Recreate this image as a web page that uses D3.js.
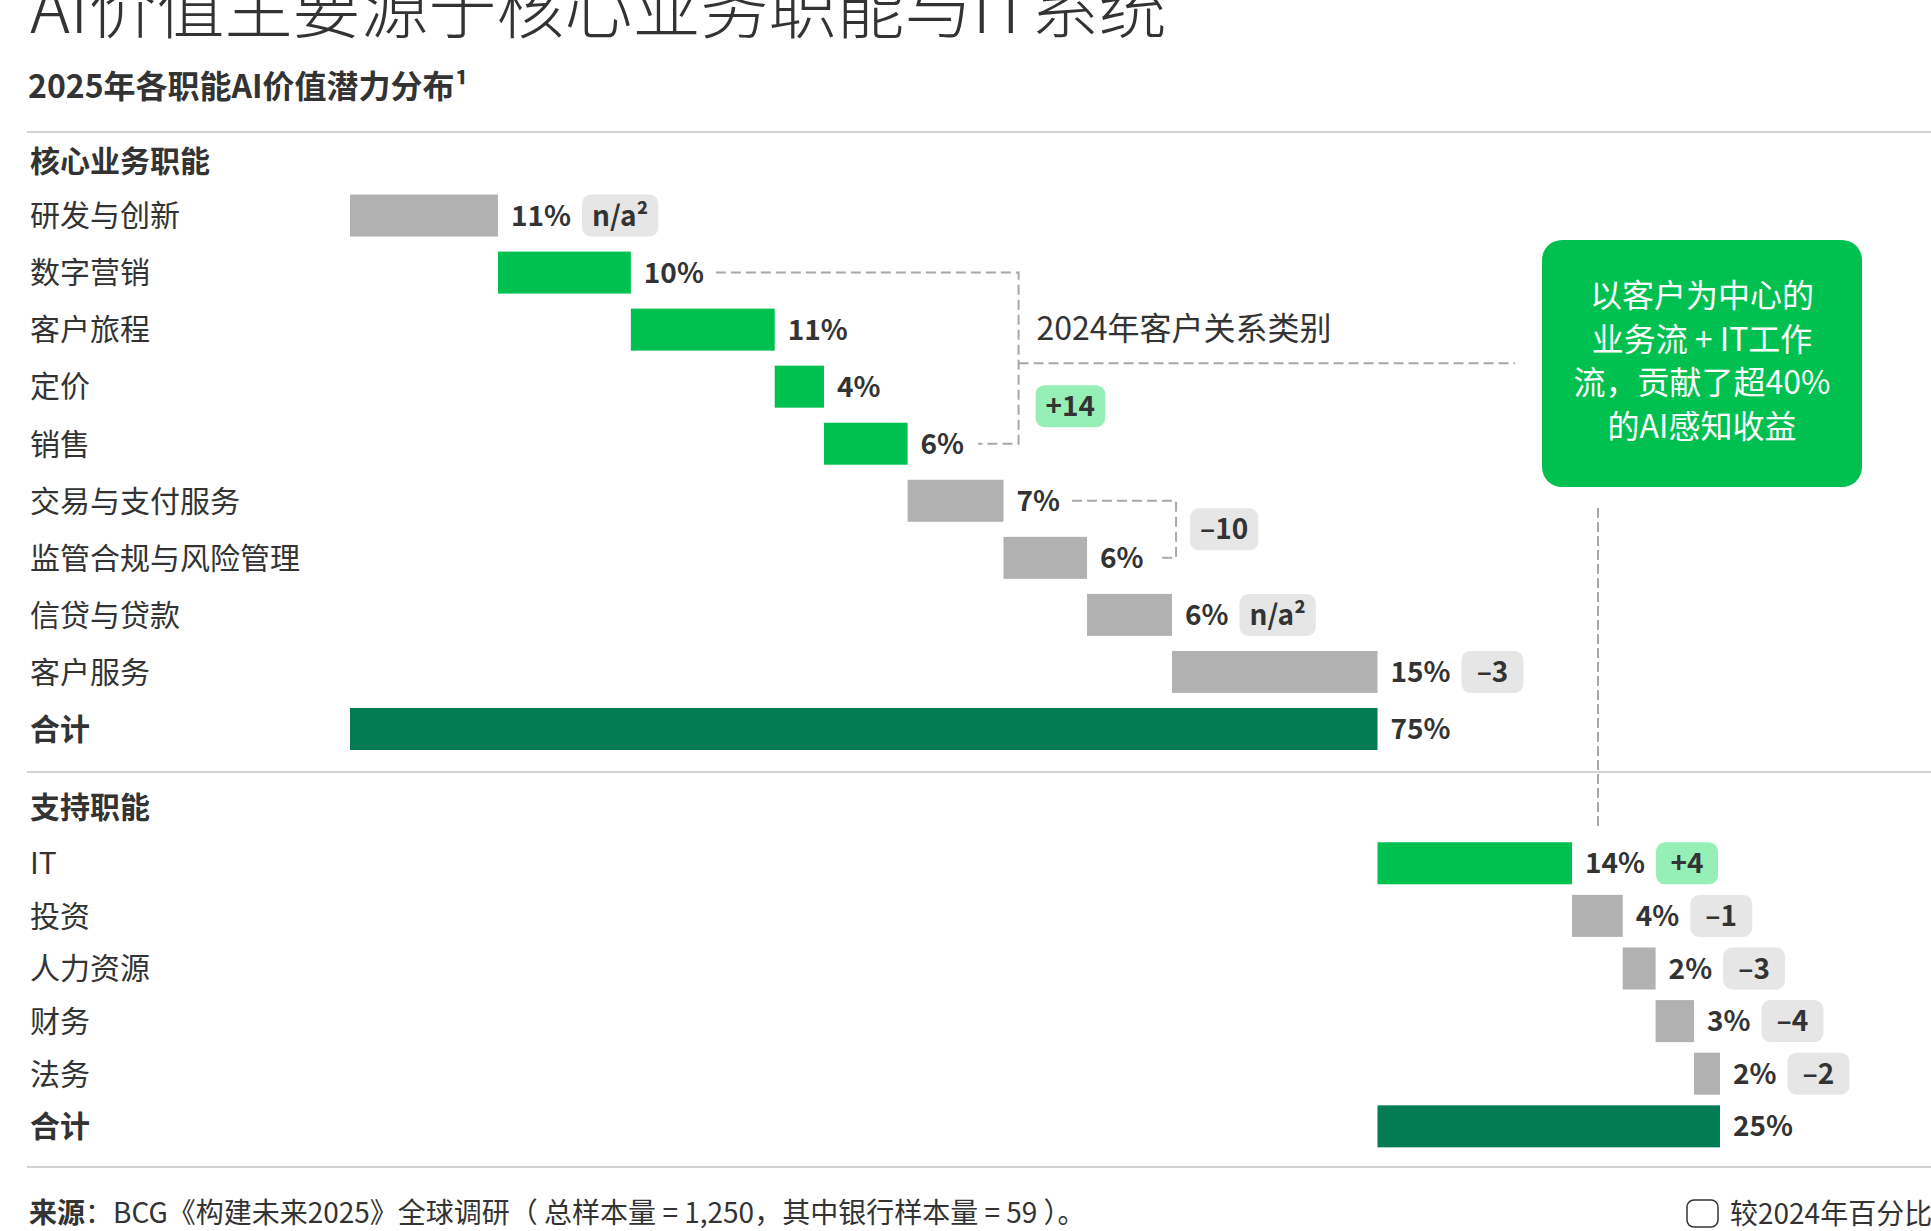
<!DOCTYPE html>
<html>
<head>
<meta charset="utf-8">
<script src="https://cdn.jsdelivr.net/npm/d3@7"></script>
<style>
  html, body { margin: 0; padding: 0; background: #fff; }
  svg { display: block; font-family: "Noto Sans CJK SC", "Noto Sans", sans-serif; }
</style>
</head>
<body>
<div id="chart"></div>
<script>
// ---- data ---------------------------------------------------------------
var coreFunctions = ["研发与创新", "数字营销", "客户旅程", "定价", "销售",
   "交易与支付服务", "监管合规与风险管理", "信贷与贷款", "客户服务"];
var coreShare = [10.8, 9.7, 10.5, 3.6, 6.1, 7.0, 6.1, 6.2, 15.0];
var coreCustomer = [false, true, true, true, true, false, false, false, false];
var coreChange = ["n/a²", null, null, null, null, null, null, "n/a²", "–3"];

var supportFunctions = ["IT", "投资", "人力资源", "财务", "法务"];
var supportShare = [14.2, 3.7, 2.4, 2.8, 1.9];
var supportCustomer = [true, false, false, false, false];
var supportChange = ["+4", "–1", "–3", "–4", "–2"];

// grouped changes vs 2024 (row index ranges in core section)
var groupChanges = [
   {from: 1, to: 4, label: "+14", up: true},
   {from: 5, to: 6, label: "–10", up: false}
];

var sectionTitles = ["核心业务职能", "支持职能"];
var totalLabel = "合计";
var calloutLines = ["以客户为中心的", "业务流 + IT工作", "流，贡献了超40%", "的AI感知收益"];

// ---- layout / style -----------------------------------------------------
var width = 1931, height = 1231;
var colors = {
   grey: "#b1b1b1", green: "#00c150", dark: "#037b53",
   badge: "#e6e6e6", badgeUp: "#96efb6", text: "#333333", rule: "#d2d2d2", dash: "#a8a8a8"
};

var svg = d3.select("#chart").append("svg")
   .attr("width", width)
   .attr("height", height);

svg.append("rect").attr("width", width).attr("height", height).attr("fill", "#fff");

var x = d3.scaleLinear().domain([0, 100]).range([350, 1720]);

var yCore = d3.scaleBand().domain(d3.range(coreFunctions.length + 1))
   .range([187, 757.5]).paddingInner(0.264).paddingOuter(0.132);
var ySupport = d3.scaleBand().domain(d3.range(supportFunctions.length + 1))
   .range([837, 1152.6]).paddingInner(0.2015).paddingOuter(0.1);

// ---- titles -------------------------------------------------------------
svg.append("text")
   .attr("x", 30).attr("y", 33)
   .attr("font-size", 68).attr("font-weight", 300)
   .attr("fill", colors.text)
   .text("AI价值主要源于核心业务职能与IT系统");

svg.append("text")
   .attr("x", 28).attr("y", 98)
   .attr("font-size", 32).attr("font-weight", 700)
   .attr("fill", colors.text)
   .text("2025年各职能AI价值潜力分布¹");

// rules
[132, 772, 1167].forEach(function(yy) {
   svg.append("line")
      .attr("x1", 27).attr("x2", width)
      .attr("y1", yy).attr("y2", yy)
      .attr("stroke", colors.rule).attr("stroke-width", 2);
});

svg.append("text").attr("x", 30).attr("y", 172)
   .attr("font-size", 30).attr("font-weight", 700).attr("fill", colors.text)
   .text(sectionTitles[0]);
svg.append("text").attr("x", 30).attr("y", 818)
   .attr("font-size", 30).attr("font-weight", 700).attr("fill", colors.text)
   .text(sectionTitles[1]);

// ---- helper to draw a section ------------------------------------------
function badge(g, x0, yc, label, up) {
   var b = g.append("g");
   var r = b.append("rect").attr("fill", up ? colors.badgeUp : colors.badge).attr("rx", 9);
   var t = b.append("text")
      .attr("font-size", 28).attr("font-weight", 700).attr("fill", colors.text)
      .attr("text-anchor", "middle")
      .attr("y", yc).attr("dy", "0.36em")
      .text(label);
   var w = Math.max(62, t.node().getComputedTextLength() + 20);
   r.attr("x", x0).attr("y", yc - 21).attr("width", w).attr("height", 42);
   t.attr("x", x0 + w / 2);
   return x0 + w;
}

function drawSection(names, shares, customer, changes, y, start) {
   var rows = names.map(function(n, i) {
      return {name: n, value: shares[i], customer: customer[i], change: changes[i], i: i};
   });
   var acc = start;
   rows.forEach(function(d) { d.x0 = acc; acc += d.value; d.x1 = acc; });
   var total = {name: totalLabel, x0: start, x1: acc, value: acc - start, total: true, i: rows.length};
   var all = rows.concat([total]);

   var g = svg.append("g");

   g.selectAll("text.name").data(all).enter().append("text")
      .attr("class", "name")
      .attr("x", 30)
      .attr("y", function(d) { return y(d.i) + y.bandwidth() / 2; })
      .attr("dy", "0.36em")
      .attr("font-size", 30)
      .attr("font-weight", function(d) { return d.total ? 700 : 400; })
      .attr("fill", colors.text)
      .text(function(d) { return d.name; });

   g.selectAll("rect.bar").data(all).enter().append("rect")
      .attr("class", "bar")
      .attr("x", function(d) { return x(d.x0); })
      .attr("width", function(d) { return x(d.x1) - x(d.x0); })
      .attr("y", function(d) { return y(d.i); })
      .attr("height", y.bandwidth())
      .attr("fill", function(d) { return d.total ? colors.dark : (d.customer ? colors.green : colors.grey); });

   all.forEach(function(d) {
      var yc = y(d.i) + y.bandwidth() / 2;
      var t = g.append("text")
         .attr("x", x(d.x1) + 13).attr("y", yc).attr("dy", "0.36em")
         .attr("font-size", 28).attr("font-weight", 700).attr("fill", colors.text)
         .text(Math.round(d.value) + "%");
      d.labelEnd = x(d.x1) + 13 + t.node().getComputedTextLength();
      if (d.change) {
         badge(g, d.labelEnd + 11, yc, d.change, d.change.charAt(0) == "+");
      }
   });
   return rows;
}

var coreRows = drawSection(coreFunctions, coreShare, coreCustomer, coreChange, yCore, 0);
var supportRows = drawSection(supportFunctions, supportShare, supportCustomer, supportChange, ySupport, d3.sum(coreShare));

// ---- bracket annotations ------------------------------------------------
var bracketOffset = [111, 89];
groupChanges.forEach(function(gc, k) {
   var a = coreRows[gc.from], b = coreRows[gc.to];
   var ya = yCore(a.i) + yCore.bandwidth() / 2, yb = yCore(b.i) + yCore.bandwidth() / 2;
   var bx = x(b.x1) + bracketOffset[k];
   var path = d3.path();
   path.moveTo(a.labelEnd + 12, ya); path.lineTo(bx, ya); path.lineTo(bx, yb); path.lineTo(b.labelEnd + 14, yb);
   svg.append("path").attr("d", path.toString())
      .attr("fill", "none").attr("stroke", colors.dash).attr("stroke-width", 2)
      .attr("stroke-dasharray", "10,5");
   var mid = (ya + yb) / 2;
   if (k == 0) {
      svg.append("line").attr("x1", bx).attr("x2", 1515).attr("y1", mid + 5).attr("y2", mid + 5)
         .attr("stroke", colors.dash).attr("stroke-width", 2).attr("stroke-dasharray", "10,5");
      svg.append("text").attr("x", bx + 18).attr("y", mid - 18)
         .attr("font-size", 32).attr("fill", colors.text)
         .text("2024年客户关系类别");
      badge(svg, bx + 17, mid + 48, gc.label, gc.up);
   } else {
      badge(svg, bx + 14, mid, gc.label, gc.up);
   }
});

// ---- callout -------------------------------------------------------------
var co = {x: 1542, y: 240, w: 320, h: 247};
svg.append("rect").attr("x", co.x).attr("y", co.y).attr("width", co.w).attr("height", co.h)
   .attr("rx", 20).attr("fill", colors.green);
svg.append("g").selectAll("text").data(calloutLines).enter().append("text")
   .attr("x", co.x + co.w / 2)
   .attr("y", function(d, i) { return 307 + i * 43.5; })
   .attr("text-anchor", "middle")
   .attr("font-size", 32).attr("fill", "#fff")
   .text(function(d) { return d; });
svg.append("line").attr("x1", 1598).attr("x2", 1598).attr("y1", 508).attr("y2", ySupport(0) - 14)
   .attr("stroke", colors.dash).attr("stroke-width", 2).attr("stroke-dasharray", "10,4");

// ---- footer -------------------------------------------------------------
var src = svg.append("text").attr("x", 29).attr("y", 1223)
   .attr("font-size", 28).attr("fill", colors.text);
src.append("tspan").attr("font-weight", 700).text("来源");
src.append("tspan").text("：BCG《构建未来2025》全球调研（ 总样本量 = 1,250，其中银行样本量 = 59 ）。");

svg.append("rect").attr("x", 1687).attr("y", 1200).attr("width", 31).attr("height", 27)
   .attr("rx", 7).attr("fill", "#fff").attr("stroke", colors.text).attr("stroke-width", 1.5);
svg.append("text").attr("x", 1730).attr("y", 1224)
   .attr("font-size", 28).attr("fill", colors.text)
   .text("较2024年百分比");
</script>
</body>
</html>
